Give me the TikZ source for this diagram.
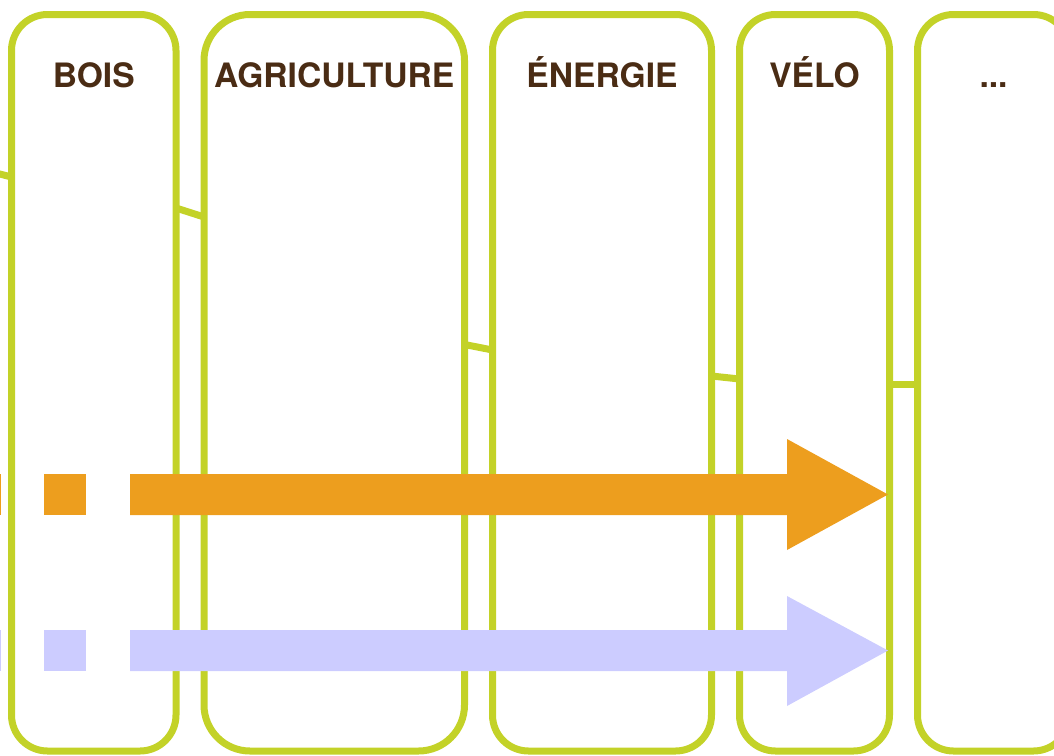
\documentclass[tikz,border=0pt]{standalone}
\usepackage{fontspec}
\setmainfont{TeX Gyre Heros}
\usepackage{tikz}
\usetikzlibrary{
    calc, chains, positioning
}
\definecolor{lime}{RGB}{195,210,40}
\definecolor{titlebrown}{RGB}{74,44,20}
\definecolor{flowone}{RGB}{237,158,30}
\definecolor{flowtwo}{RGB}{204,204,255}

\begin{document}
\begin{tikzpicture}[x=0.5pt,y=-0.5pt]
            \edef\heightcol{368.25pt}
            \tikzstyle{column}=[draw=lime,line width=3.5pt,rounded corners=18pt,inner sep=0pt,outer sep=0pt,minimum height=\heightcol]
            \tikzstyle{coltitle}=[text=titlebrown,font=\bfseries\fontsize{16.8}{20}\selectfont,anchor=base]
            \tikzstyle{link}=[draw=lime,line width=3.5pt]

            \useasboundingbox (0,0) rectangle (1054,755);

            \begin{scope}[start chain=1 going right,node distance=14pt]
                \node (bois) [on chain=1,column,minimum width=82.25pt,anchor=north west] at (11.5,14.5) {};
                \node (agri) [on chain=1,column,minimum width=130.25pt,rounded corners=23pt] {};
                \node (ener) [on chain=1,column,minimum width=109.5pt] {};
                \node (velo) [on chain=1,column,minimum width=75pt] {};
                \node (more) [on chain=1,column,minimum width=76pt] {};
            \end{scope}

            \node [coltitle] (tbois) at ([yshift=-36.25pt]bois.north) {BOIS};
            \node [coltitle] (tagri) at ([yshift=-36.25pt]agri.north) {AGRICULTURE};
            \node [coltitle] (tener) at ([yshift=-36.25pt]ener.north) {ÉNERGIE};
            \node [coltitle] (tvelo) at ([yshift=-36.25pt]velo.north) {VÉLO};
            \node [coltitle] (tmore) at ([yshift=-36.25pt]more.north) {...};

            % links between the columns
            \coordinate (lstub) at (-10,171.5);
            \draw [link] (lstub) -- ($(bois.north west)+(0,162.5)$);
            \draw [link] ($(bois.north east)+(0,193.5)$) -- ($(agri.north west)+(0,202.5)$);
            \draw [link] ($(agri.north east)+(0,330)$) -- ($(ener.north west)+(0,335.5)$);
            \draw [link] ($(ener.north east)+(0,361.5)$) -- ($(velo.north west)+(0,364.5)$);
            \draw [link] ($(velo.north east)+(0,369.5)$) -- ($(more.north west)+(0,369.5)$);

            % flows
            \fill [flowone] (-20,474) rectangle (1,515);
            \fill [flowone] (44,474) rectangle (86,515);
            \fill [flowone] (130,474) -- (787,474) -- (787,439) -- (888,494.5)
                -- (787,550) -- (787,515) -- (130,515) -- cycle;

            \fill [flowtwo] (-20,630) rectangle (1,671);
            \fill [flowtwo] (44,630) rectangle (86,671);
            \fill [flowtwo] (130,630) -- (787,630) -- (787,596) -- (888,650.5)
                -- (787,706) -- (787,671) -- (130,671) -- cycle;
        \end{tikzpicture}
\end{document}
